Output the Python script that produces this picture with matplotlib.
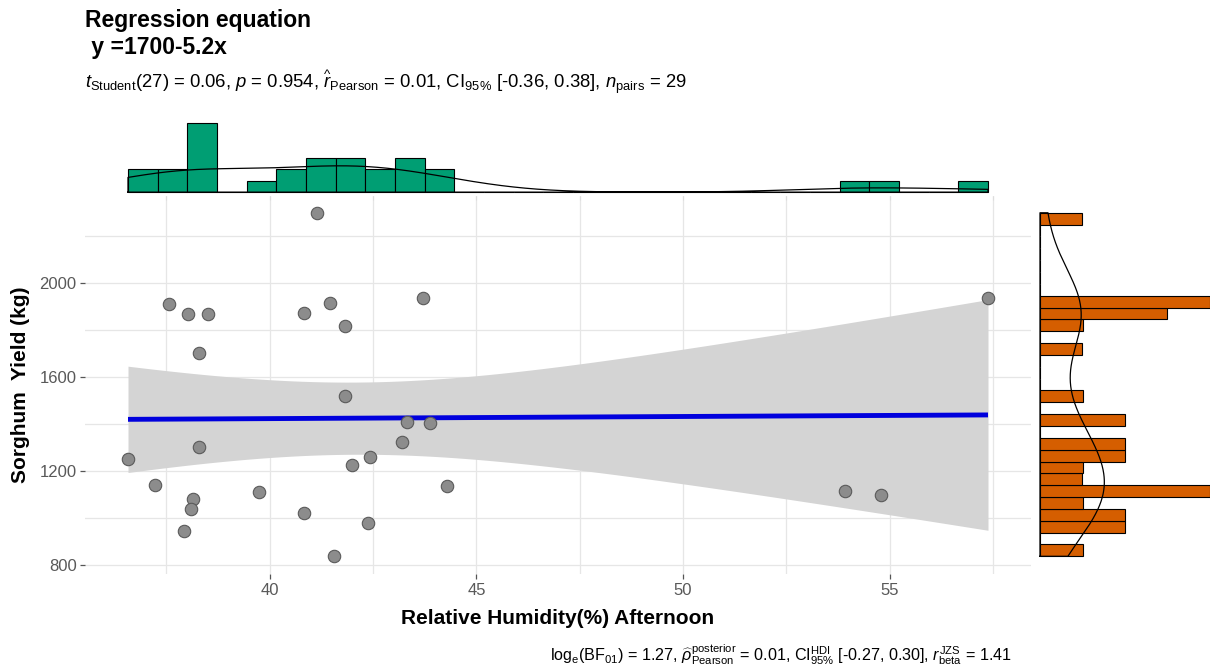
import numpy as np
import matplotlib
matplotlib.use("Agg")
import matplotlib.pyplot as plt

# ---------------- data ----------------
humidity = [41.14, 37.56, 38.03, 38.51, 40.82, 41.45, 41.82, 43.70, 38.30, 41.82,
            43.32, 43.87, 43.20, 38.30, 36.57, 42.42, 42.00, 37.23, 44.29, 39.75,
            38.14, 38.09, 40.82, 42.38, 37.92, 41.55, 53.92, 54.78, 57.38]
yield_kg = [2297, 1909, 1865, 1865, 1872, 1915, 1817, 1933, 1701, 1518,
            1409, 1403, 1324, 1300, 1250, 1258, 1226, 1142, 1137, 1110,
            1082, 1037, 1020, 977, 946, 837, 1116, 1099, 1933]
x_ticks = [40, 45, 50, 55]
y_ticks = [800, 1200, 1600, 2000]
title_text = "Regression equation\n y =1700-5.2x"
x_label = "Relative Humidity(%) Afternoon"
y_label = "Sorghum  Yield (kg)"

plt.rcParams['font.family'] = ['Liberation Sans', 'DejaVu Sans']
plt.rcParams['mathtext.fontset'] = 'custom'
plt.rcParams['mathtext.rm'] = 'Liberation Sans'
plt.rcParams['mathtext.it'] = 'Liberation Sans:italic'
plt.rcParams['mathtext.bf'] = 'Liberation Sans:bold'

x = np.array(humidity, dtype=float)
y = np.array(yield_kg, dtype=float)
n = len(x)

# regression + 95% CI
slope, intercept = np.polyfit(x, y, 1)
xs = np.linspace(x.min(), x.max(), 80)
yfit = intercept + slope * xs
resid = y - (intercept + slope * x)
s = np.sqrt(np.sum(resid ** 2) / (n - 2))
sxx = np.sum((x - x.mean()) ** 2)
se = s * np.sqrt(1.0 / n + (xs - x.mean()) ** 2 / sxx)
tq = 2.0518  # t quantile, df = 27
lo, hi = yfit - tq * se, yfit + tq * se


def kde(v, npts=512):
    v = np.asarray(v)
    sd = v.std(ddof=1)
    q75, q25 = np.percentile(v, [75, 25])
    bw = 0.9 * min(sd, (q75 - q25) / 1.34) * len(v) ** (-0.2)
    g = np.linspace(v.min(), v.max(), npts)
    d = np.exp(-0.5 * ((g[:, None] - v[None, :]) / bw) ** 2).sum(1) / (len(v) * bw * np.sqrt(2 * np.pi))
    return g, d


W, H = 1210, 668
fig = plt.figure(figsize=(W / 100, H / 100), dpi=100)
px_l, px_r = 85, 1031
py_t, py_b = 195.6, 573.5
ax = fig.add_axes([px_l / W, (H - py_b) / H, (px_r - px_l) / W, (py_b - py_t) / H])
axt = fig.add_axes([px_l / W, (H - py_t) / H, (px_r - px_l) / W, 76 / H])
axr = fig.add_axes([px_r / W, (H - py_b) / H, (W - px_r) / W, (py_b - py_t) / H])

# ---------------- main panel ----------------
xr = x.max() - x.min()
yr = y.max() - y.min()
xlim = (x.min() - 0.05 * xr, x.max() + 0.05 * xr)
ylim = (y.min() - 0.05 * yr, y.max() + 0.05 * yr)

ax.fill_between(xs, lo, hi, color='#D4D4D4', lw=0, zorder=2)
ax.plot(xs, yfit, color='#0000DD', lw=3.5, zorder=3, solid_capstyle='butt')
ax.scatter(x, y, s=80, facecolor='#8C8C8C', edgecolor='#5A5A5A', linewidth=0.8, zorder=4)

ax.set_xlim(xlim)
ax.set_ylim(ylim)
ax.set_xticks(x_ticks)
ax.set_yticks(y_ticks)
ax.set_xticks([t + 2.5 for t in [35] + x_ticks], minor=True)
ax.set_yticks([t + 200 for t in y_ticks], minor=True)
ax.grid(True, which='both', color='#E6E6E6', lw=0.9, zorder=0)
ax.set_axisbelow(True)
for sp in ax.spines.values():
    sp.set_visible(False)
ax.tick_params(which='major', length=3.5, width=0.9, color='#555555', labelcolor='#595959',
               labelsize=12, pad=3.5)
ax.tick_params(axis='y', which='major', pad=2.5)
ax.tick_params(which='minor', length=0)
ax.set_xlabel(x_label, fontsize=15, fontweight='bold', labelpad=8)
ax.set_ylabel(y_label, fontsize=15, fontweight='bold', labelpad=7)

# ---------------- top marginal ----------------
nb = 29
cnt_t, edges_t, _ = axt.hist(x, bins=nb, range=(x.min(), x.max()), density=True,
                              color='#009E73', edgecolor='black', linewidth=0.8)
gx, dx = kde(x)
axt.plot(np.r_[gx[0], gx, gx[-1], gx[0]], np.r_[0, dx, 0, 0], color='black', lw=0.9)
mt = max(cnt_t.max(), dx.max())
axt.set_xlim(xlim)
axt.set_ylim(-0.05 * mt, 1.05 * mt)
axt.set_xticks([t + 2.5 for t in [35] + x_ticks] + x_ticks)
axt.tick_params(axis='x', length=3, color='#DDDDDD', labelbottom=False)
axt.tick_params(axis='y', left=False, labelleft=False)
for sp in axt.spines.values():
    sp.set_visible(False)
axt.patch.set_alpha(0)

# ---------------- right marginal ----------------
cnt_r, edges_r, _ = axr.hist(y, bins=nb, range=(y.min(), y.max()), density=True,
                              orientation='horizontal', color='#D55E00',
                              edgecolor='black', linewidth=0.8)
gy, dy = kde(y)
axr.plot(np.r_[0, dy, 0, 0], np.r_[gy[0], gy, gy[-1], gy[0]], color='black', lw=0.9)
mr = max(cnt_r.max(), dy.max())
axr.set_xlim(-9 / 170 * mr, mr)
axr.set_ylim(ylim)
axr.tick_params(left=False, bottom=False, labelleft=False, labelbottom=False)
for sp in axr.spines.values():
    sp.set_visible(False)
axr.patch.set_alpha(0)

# ---------------- texts ----------------
fig.text(85 / W, 1 - 9 / H, title_text, ha='left', va='top', fontsize=16.5,
         fontweight='bold', linespacing=1.22)
subtitle = (r"$\mathit{t}_{\mathrm{Student}}$(27) = 0.06, $\mathit{p}$ = 0.954, "
            r"$\widehat{\mathit{r}}_{\mathrm{Pearson}}$ = 0.01, CI$_{\mathrm{95\%}}$ [-0.36, 0.38], "
            r"$\mathit{n}_{\mathrm{pairs}}$ = 29")
fig.text(85 / W, 1 - 83 / H, subtitle, ha='left', va='center', fontsize=13.3)
caption = (r"log$_{\mathrm{e}}$(BF$_{\mathrm{01}}$) = 1.27, "
           r"$\widehat{\rho}_{\mathrm{Pearson}}^{\mathrm{posterior}}$ = 0.01, "
           r"CI$_{\mathrm{95\%}}^{\mathrm{HDI}}$ [-0.27, 0.30], "
           r"$\mathit{r}_{\mathrm{beta}}^{\mathrm{JZS}}$ = 1.41")
fig.text(1012 / W, 1 - 655 / H, caption, ha='right', va='center', fontsize=11.6)

fig.savefig("out.png", dpi=100)
